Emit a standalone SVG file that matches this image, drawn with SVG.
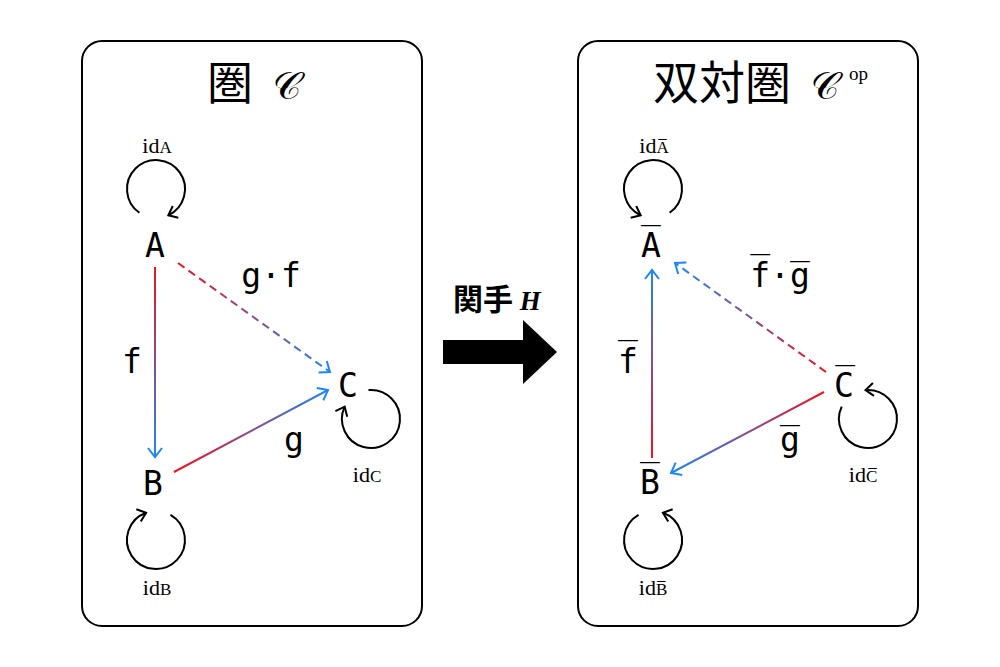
<svg xmlns="http://www.w3.org/2000/svg" width="1000" height="667" viewBox="0 0 1000 667">
<style>
.panel{fill:#fff;stroke:#000;stroke-width:2}
.node{font-family:"DejaVu Sans Mono","Liberation Mono",monospace;font-size:33px;fill:#000;text-anchor:middle}
.lbl{font-family:"DejaVu Sans Mono","Liberation Mono",monospace;font-size:33px;fill:#000;text-anchor:middle}
.id{font-family:"Liberation Serif","DejaVu Serif",serif;font-size:22px;fill:#000;text-anchor:middle}
.sc{font-size:17px}
.title{font-family:"Noto Sans CJK JP","Noto Sans CJK SC",sans-serif;font-size:46px;fill:#000}
.script{font-family:"Noto Sans Math","DejaVu Serif","DejaVu Sans",serif;font-size:38px;fill:#000}
.loop{fill:none;stroke:#000;stroke-width:2;marker-end:url(#headK)}
.edge{fill:none;stroke-width:2;marker-end:url(#headB)}
.dash{stroke-dasharray:8 5}
</style>
<defs>
<marker id="headK" markerUnits="userSpaceOnUse" markerWidth="24" markerHeight="24" viewBox="-12 -12 24 24" refX="0" refY="0" orient="auto">
<path d="M-8,-6.5 L0,0 L-8,6.5" fill="none" stroke="#000" stroke-width="2"/>
</marker>
<marker id="headB" markerUnits="userSpaceOnUse" markerWidth="24" markerHeight="24" viewBox="-12 -12 24 24" refX="0" refY="0" orient="auto">
<path d="M-9,-7 L0,0 L-9,7" fill="none" stroke="#1e86f5" stroke-width="2"/>
</marker>
<linearGradient id="gF" gradientUnits="userSpaceOnUse" x1="155" y1="267" x2="155" y2="457"><stop offset="0" stop-color="#f0141e"/><stop offset="1" stop-color="#1e86f5"/></linearGradient>
<linearGradient id="gG" gradientUnits="userSpaceOnUse" x1="174" y1="472" x2="328" y2="390"><stop offset="0" stop-color="#f0141e"/><stop offset="1" stop-color="#1e86f5"/></linearGradient>
<linearGradient id="gGF" gradientUnits="userSpaceOnUse" x1="178" y1="263" x2="330" y2="372"><stop offset="0" stop-color="#f0141e"/><stop offset="1" stop-color="#1e86f5"/></linearGradient>
<linearGradient id="gFo" gradientUnits="userSpaceOnUse" x1="652" y1="458" x2="652" y2="270"><stop offset="0" stop-color="#f0141e"/><stop offset="1" stop-color="#1e86f5"/></linearGradient>
<linearGradient id="gGo" gradientUnits="userSpaceOnUse" x1="824" y1="392" x2="671" y2="473"><stop offset="0" stop-color="#f0141e"/><stop offset="1" stop-color="#1e86f5"/></linearGradient>
<linearGradient id="gFGo" gradientUnits="userSpaceOnUse" x1="826" y1="372" x2="675" y2="263"><stop offset="0" stop-color="#f0141e"/><stop offset="1" stop-color="#1e86f5"/></linearGradient>
</defs>
<rect width="1000" height="667" fill="#fff"/>

<g id="panel-left">
<rect class="panel" x="82" y="41" width="340" height="585" rx="20"/>
<text class="title" x="207" y="99">圏</text>
<text class="script" x="274" y="99">𝒞</text>
</g>
<g id="panel-right">
<rect class="panel" x="578" y="41" width="340" height="585" rx="20"/>
<text class="title" x="653" y="99">双対圏</text>
<text class="script" x="812" y="99">𝒞</text>
<text x="849" y="80" style="font-family:'Liberation Serif',serif;font-size:19px">op</text>
</g>

<g id="node-A"><text class="node" x="155" y="257">A</text></g>
<g id="node-B"><text class="node" x="153" y="495">B</text></g>
<g id="node-C"><text class="node" x="348" y="397">C</text></g>
<g id="node-Abar"><text class="node" x="651" y="257">A̅</text></g>
<g id="node-Bbar"><text class="node" x="650" y="494">B̅</text></g>
<g id="node-Cbar"><text class="node" x="844" y="397">C̅</text></g>

<g id="connectors">
<line class="edge" x1="155" y1="267" x2="155" y2="457" stroke="url(#gF)"/>
<line class="edge" x1="174" y1="472" x2="328" y2="390" stroke="url(#gG)"/>
<line class="edge dash" x1="178" y1="263" x2="330" y2="372" stroke="url(#gGF)"/>
<line class="edge" x1="652" y1="458" x2="652" y2="270" stroke="url(#gFo)"/>
<line class="edge" x1="824" y1="392" x2="671" y2="473" stroke="url(#gGo)"/>
<line class="edge dash" x1="826" y1="372" x2="675" y2="263" stroke="url(#gFGo)"/>
<path class="loop" d="M139.4,212.8 A29,29 0 1 1 168.3,215.3"/>
<path class="loop" d="M170.5,514.9 A29,29 0 1 1 146.1,512.7"/>
<path class="loop" d="M368.5,390.1 A29,29 0 1 1 344.7,406.7"/>
<path class="loop" d="M669.6,212.8 A29,29 0 1 0 640.7,215.3"/>
<path class="loop" d="M638.5,514.9 A29,29 0 1 0 662.9,512.7"/>
<path class="loop" d="M841.7,406.7 A29,29 0 1 0 865.5,390.1"/>
</g>

<g id="labels">
<text class="lbl" x="132" y="373">f</text>
<text class="lbl" x="271" y="287">g·f</text>
<text class="lbl" x="294" y="451">g</text>
<text class="lbl" x="628" y="373">f̅</text>
<text class="lbl" x="780" y="287">f̅·g̅</text>
<text class="lbl" x="790" y="451">g̅</text>
<text class="id" x="157" y="153">id<tspan class="sc">A</tspan></text>
<text class="id" x="157" y="595">id<tspan class="sc">B</tspan></text>
<text class="id" x="367" y="482">id<tspan class="sc">C</tspan></text>
<text class="id" x="654" y="153">id<tspan class="sc">A̅</tspan></text>
<text class="id" x="653" y="595">id<tspan class="sc">B̅</tspan></text>
<text class="id" x="863" y="482">id<tspan class="sc">C̅</tspan></text>
</g>

<g id="functor">
<polygon points="443,340 523,340 523,320 557,352 523,384 523,364 443,364" fill="#000"/>
<text x="453" y="310" style="font-family:'Noto Sans CJK JP','Noto Sans CJK SC',sans-serif;font-size:30px;font-weight:700">関手 <tspan style="font-family:'Liberation Serif',serif;font-style:italic;font-size:27px">H</tspan></text>
</g>
</svg>
